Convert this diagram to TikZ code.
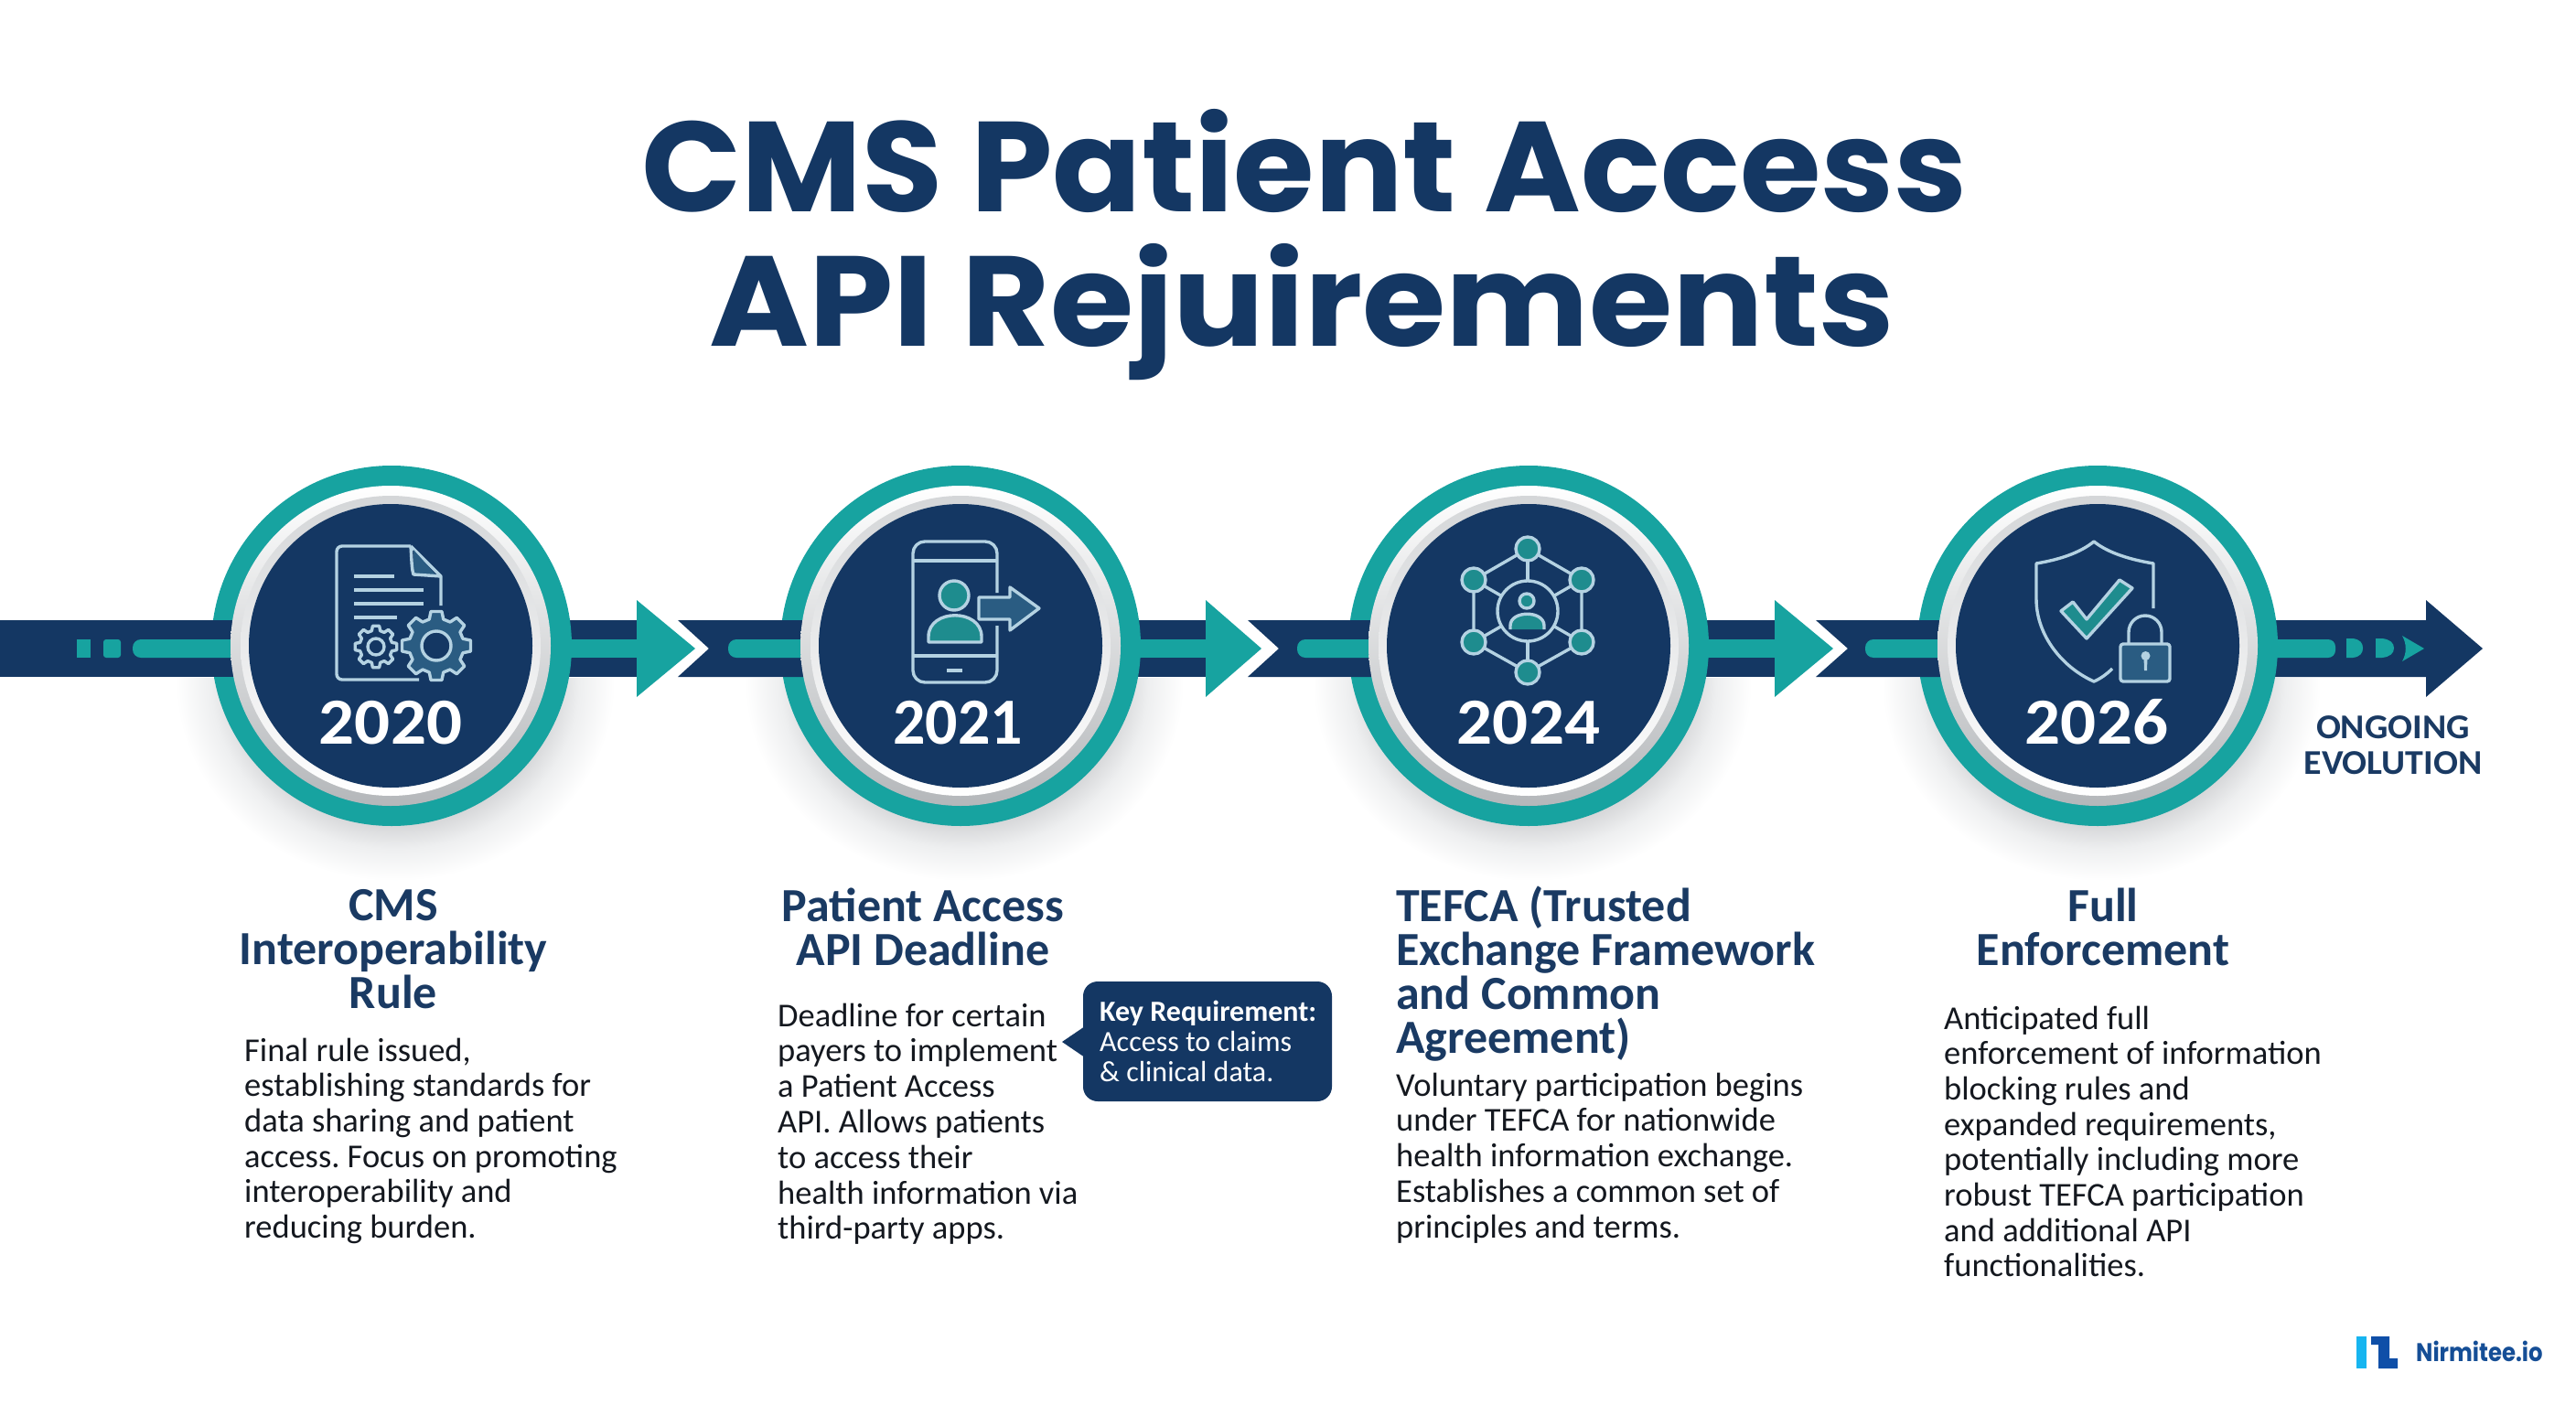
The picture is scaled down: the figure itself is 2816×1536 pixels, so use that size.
\documentclass[tikz,border=0pt]{standalone}
\usepackage{fontspec}
\setmainfont{Carlito}
\newfontfamily\titlefont{Poppins}
\frenchspacing
\definecolor{navy}{HTML}{143763}
\definecolor{tealc}{HTML}{17A3A0}
\definecolor{headc}{HTML}{1A3A63}
\definecolor{bodyc}{HTML}{14181F}
\definecolor{iconl}{HTML}{B4D2E2}
\definecolor{iconteal}{HTML}{1E8C8E}
\definecolor{icondk}{HTML}{2A5C82}
\definecolor{ringlow}{HTML}{B4B7BA}
\definecolor{ringin}{HTML}{D4D6D8}
\definecolor{shadeg}{HTML}{C4C6C8}
\definecolor{shadef}{HTML}{D6D7D9}
\definecolor{shadeh}{HTML}{EEEFF0}
\definecolor{logolight}{HTML}{17B5F0}
\definecolor{logodark}{HTML}{0F4FA8}
\definecolor{logotext}{HTML}{154E96}
\pgfdeclareradialshading{cshadow}{\pgfpointorigin}{color(0bp)=(shadeg);color(18bp)=(shadef);color(21bp)=(shadeh);color(25bp)=(white);color(50bp)=(white)}
\newcommand\blk[2]{\vtop{\baselineskip=#1\relax\lineskiplimit=-100pt\lineskip=0pt\halign{##\hfil\cr #2\cr}}}
\newcommand\blc[2]{\vtop{\baselineskip=#1\relax\lineskiplimit=-100pt\lineskip=0pt\halign{\hfil##\hfil\cr #2\cr}}}
\newcommand\bodyf{\fontsize{36.5}{38}\selectfont}
\newcommand\headf{\fontsize{52}{48}\selectfont\bfseries}
\newcommand\gearicon[6]{% x y ro ri n fill
 \begin{scope}[shift={(#1,#2)}]
 \draw[iconstroke,fill=#6,line join=round] (-9:#3)
  \foreach \i in {1,...,#5}{
   -- ({(\i-1)*360/#5+9}:#3) -- ({(\i-1)*360/#5+15}:#4) -- ({\i*360/#5-15}:#4) -- ({\i*360/#5-9}:#3)
  } -- cycle;
 \end{scope}
}
\tikzset{
 iconstroke/.style={draw=iconl,line width=3.4pt,line join=round},
 headtext/.style={inner sep=0pt,text=headc,font=\headf},
 bodytext/.style={inner sep=0pt,text=bodyc,font=\bodyf,anchor=base west},
 yeartext/.style={inner sep=0pt,text=white,anchor=base,font=\fontsize{72}{72}\selectfont\bfseries},
}
\begin{document}
\begin{tikzpicture}[x=1pt,y=-1pt]
\useasboundingbox (0,0) rectangle (2816,1536);
\fill[white] (0,0) rectangle (2816,1536);

% title
\node[inner sep=0pt,anchor=base,text=navy] (title1) at (1426,231) {\scalebox{1.025}[1]{\titlefont\fontsize{140}{140}\selectfont\bfseries CMS Patient Access}};
\node[inner sep=0pt,anchor=base,text=navy] (title2) at (1423,378) {\scalebox{1.057}[1]{\titlefont\fontsize{140}{140}\selectfont\bfseries API Rejuirements}};

% soft shadows below the discs
\begin{scope}
\clip (0,741) rectangle (2816,1000);
\foreach \xc in {428,1050,1671,2293}{
 \shade[shading=cshadow] (\xc+4,745) ellipse [x radius=240pt,y radius=218pt];
}
\end{scope}

% right-hand pieces: they pass under the teal rings
\foreach \xc/\ab/\at in {428/696/760,1050/1318/1379,1671/1940/2004}{
 \fill[navy] (\xc,678) rectangle (\ab+1,740);
 \fill[tealc] (\xc,699) rectangle (\ab+1,719);
 \fill[tealc] (\ab,656) -- (\at,709) -- (\ab,762) -- cycle;
}
\fill[navy] (2293,678) -- (2652,678) -- (2652,656) -- (2714,709) -- (2652,762) -- (2652,740) -- (2293,740) -- cycle;
\fill[tealc,rounded corners=8pt] (2293,699) rectangle (2553,719);
\fill[tealc] (2565,698) -- (2572,698) .. controls (2580,699) and (2583,703) .. (2583,708.5) .. controls (2583,714) and (2580,718) .. (2572,719) -- (2565,719) -- cycle;
\fill[tealc] (2597,698) -- (2604,698) .. controls (2613,699) and (2617,703) .. (2617,708.5) .. controls (2617,714) and (2613,718) .. (2604,719) -- (2597,719) -- cycle;
\fill[tealc] (2626,695) -- (2650,709) -- (2626,723) .. controls (2631,714) and (2631,704) .. (2626,695) -- cycle;

% teal rings
\foreach \xc in {428,1050,1671,2293}{
 \fill[tealc] (\xc,706) circle[radius=197pt];
}

% left-hand pieces: they lie over the teal rings
\fill[navy] (0,678) rectangle (300,740);
\fill[tealc] (84,699) rectangle (99,719);
\fill[tealc,rounded corners=3pt] (113,699) rectangle (132,719);
\fill[tealc,rounded corners=9pt] (145,699) -- (300,699) -- (300,719) -- (145,719) -- cycle;
\foreach \xn/\xt/\sx/\xc in {741/775/796/1050,1364/1398/1418/1671,1985/2020/2039/2293}{
 \fill[navy] (\xn,678) -- (\xt,709) -- (\xn,740) -- (\xc,740) -- (\xc,678) -- cycle;
 \fill[tealc,rounded corners=9pt] (\sx,699) -- (\xc,699) -- (\xc,719) -- (\sx,719) -- cycle;
}

% silver bevels and navy discs
\foreach \xc in {427,1050,1671,2293}{
 \shade[top color=white,bottom color=ringlow] (\xc,706) circle[radius=175pt];
 \shade[top color=ringin,bottom color=white] (\xc,706) circle[radius=164pt];
 \fill[navy] (\xc,706) circle[radius=155pt];
}

% years
\node[yeartext] (y2020) at (427,813) {\scalebox{1.07}[1]{2020}};
\node[yeartext] (y2021) at (1047,813) {\scalebox{0.97}[1]{2021}};
\node[yeartext] (y2024) at (1671,813) {\scalebox{1.07}[1]{2024}};
\node[yeartext] (y2026) at (2292,813) {\scalebox{1.07}[1]{2026}};

% icon 1: document and gears
\draw[iconstroke,rounded corners=6pt] (449,597) -- (368,597) -- (368,743) -- (458,743);
\draw[iconstroke] (449,597) -- (482,630) -- (482,662);
\fill[icondk] (452,601) -- (478,630) -- (452,627) -- cycle;
\draw[iconstroke] (449,597) .. controls (450,612) and (450,622) .. (452,628) -- (482,630);
\foreach \yy/\xe in {630/431,645/463,660/463,675/434}{
 \draw[draw=iconl,line width=4.4pt] (387,\yy) -- (\xe,\yy);
}
\gearicon{411}{707}{23}{18}{8}{navy}
\draw[iconstroke] (411,707) circle[radius=9pt];
\gearicon{477}{706}{38}{30}{8}{icondk}
\draw[iconstroke,fill=navy] (477,706) circle[radius=16pt];

% icon 2: phone
\draw[iconstroke,rounded corners=13pt] (1090,648) -- (1090,592) -- (998,592) -- (998,746) -- (1090,746) -- (1090,684);
\draw[iconstroke] (998,613) -- (1090,613);
\draw[iconstroke] (998,717) -- (1090,717);
\draw[draw=iconl,line width=4.6pt] (1035,733) -- (1052,733);
\draw[iconstroke,fill=iconteal] (1043,651) circle[radius=16pt];
\draw[iconstroke,fill=iconteal] (1015,702) -- (1015,696) .. controls (1015,665) and (1073,665) .. (1073,696) -- (1073,702) -- cycle;
\draw[iconstroke,fill=icondk] (1070,653) -- (1104,653) -- (1104,642) -- (1136,665) -- (1104,689) -- (1104,677) -- (1070,677) -- cycle;

% icon 3: network
\coordinate (hubc) at (1670,668);
\foreach \px/\py in {1670/600,1729/634,1729/702,1670/735,1611/702,1611/634}{
 \draw[iconstroke] (hubc) -- (\px,\py);
}
\draw[iconstroke] (1670,600) -- (1729,634) -- (1729,702) -- (1670,735) -- (1611,702) -- (1611,634) -- cycle;
\foreach \px/\py in {1670/600,1729/634,1729/702,1670/735,1611/702,1611/634}{
 \draw[iconstroke,fill=iconteal] (\px,\py) circle[radius=13pt];
}
\draw[iconstroke,fill=navy] (hubc) circle[radius=33pt];
\draw[iconstroke,fill=iconteal] (1669,657) circle[radius=8pt];
\fill[iconteal] (1651,688) -- (1651,684) .. controls (1651,667) and (1688,667) .. (1688,684) -- (1688,688) -- cycle;
\draw[iconstroke] (1651,688) -- (1651,684) .. controls (1651,667) and (1688,667) .. (1688,684) -- (1688,688);

% icon 4: shield and lock
\draw[iconstroke] (2354,665) -- (2354,616) .. controls (2330,612) and (2305,605) .. (2289,592) .. controls (2273,605) and (2250,612) .. (2226,616) -- (2226,655) .. controls (2226,695) and (2255,730) .. (2289,745) .. controls (2296,742) and (2303,737) .. (2309,731);
\draw[iconstroke,fill=iconteal] (2253,668) -- (2281,698) -- (2331,643) -- (2317,634) -- (2281,677) -- (2266,658) -- cycle;
\draw[iconstroke] (2327,704) -- (2327,691) arc[start angle=180,end angle=0,radius=18pt] -- (2363,704);
\draw[iconstroke,fill=icondk,rounded corners=3pt] (2318,704) rectangle (2372,745);
\fill[iconl] (2345.5,717) circle[radius=5pt];
\fill[iconl] (2343.5,718) -- (2347.5,718) -- (2347,733) -- (2344,733) -- cycle;

% ongoing label
\node[inner sep=0pt,anchor=base,text=headc,font=\fontsize{38}{38}\selectfont\bfseries] (ongoing) at (2616,807) {\scalebox{1.05}[1]{\blc{39pt}{ONGOING\cr EVOLUTION}}};

% headings
\node[headtext,anchor=base] (h1) at (430,1006) {\blc{48pt}{CMS\cr Interoperability\cr Rule}};
\node[headtext,anchor=base] (h2) at (1009,1007) {\blc{48pt}{Patient Access\cr API Deadline}};
\node[headtext,anchor=base west] (h3) at (1526,1007) {\blk{48pt}{TEFCA (Trusted\cr Exchange Framework\cr and Common\cr Agreement)}};
\node[headtext,anchor=base] (h4) at (2299,1007) {\blc{48pt}{Full\cr Enforcement}};

% body text
\node[bodytext] (b1) at (267,1160) {\blk{38.7pt}{Final rule issued,\cr establishing standards for\cr data sharing and patient\cr access. Focus on promoting\cr interoperability and\cr reducing burden.}};
\node[bodytext] (b2) at (850,1122) {\blk{38.8pt}{Deadline for certain\cr payers to implement\cr a Patient Access\cr API. Allows patients\cr to access their\cr health information via\cr third-party apps.}};
\node[bodytext] (b3) at (1526,1198) {\blk{38.8pt}{Voluntary participation begins\cr under TEFCA for nationwide\cr health information exchange.\cr Establishes a common set of\cr principles and terms.}};
\node[bodytext] (b4) at (2125,1125) {\blk{38.7pt}{Anticipated full\cr enforcement of information\cr blocking rules and\cr expanded requirements,\cr potentially including more\cr robust TEFCA participation\cr and additional API\cr functionalities.}};

% callout
\fill[navy,rounded corners=16pt] (1184,1073) rectangle (1456,1204);
\fill[navy] (1186,1122) -- (1161,1139) -- (1186,1156) -- cycle;
\node[inner sep=0pt,anchor=base west,text=white,font=\fontsize{32}{32}\selectfont] (keyreq) at (1202,1116) {\blk{33pt}{\textbf{Key Requirement:}\cr Access to claims\cr \& clinical data.}};

% logo
\fill[logolight] (2576,1461) rectangle (2587,1496);
\fill[logodark] (2592,1461) -- (2612,1461) -- (2612,1485) -- (2621,1485) -- (2621,1496) -- (2600,1496) -- (2600,1470) -- (2592,1470) -- cycle;
\node[inner sep=0pt,anchor=base west,text=logotext] (logo) at (2641,1488) {\scalebox{0.87}[1]{\titlefont\fontsize{28}{28}\selectfont\bfseries Nirmitee.io}};
\end{tikzpicture}
\end{document}
